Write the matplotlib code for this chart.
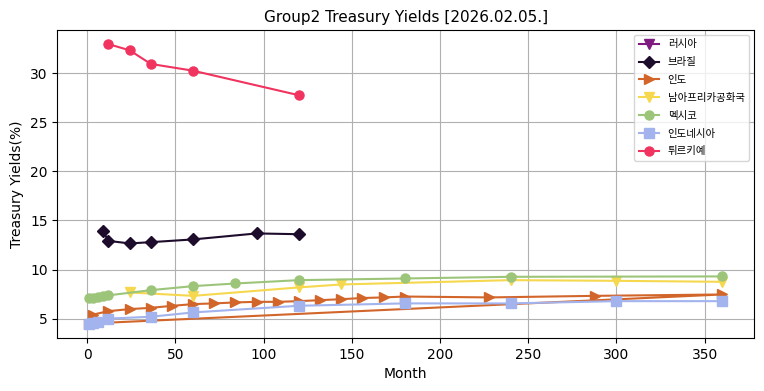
import matplotlib
matplotlib.use("Agg")
import matplotlib.pyplot as plt

plt.rcParams['font.family'] = ['DejaVu Sans', 'Noto Sans CJK KR']

# month / yield (%) per country
russia_m = []
russia_y = []

brazil_m = [9, 12, 24, 36, 60, 96, 120]
brazil_y = [13.88, 12.92, 12.66, 12.79, 13.07, 13.68, 13.6]

india_m = [3, 12, 24, 36, 48, 60, 72, 84, 96, 108, 120, 132, 144, 156,
           168, 180, 228, 288, 360, 1]
india_y = [5.4, 5.76, 5.97, 6.1, 6.3, 6.48, 6.55, 6.65, 6.71, 6.71, 6.78,
           6.88, 6.98, 7.1, 7.16, 7.25, 7.16, 7.32, 7.46, 4.5]

sa_m = [24, 60, 120, 144, 240, 300, 360]
sa_y = [7.67, 7.32, 8.18, 8.48, 8.92, 8.85, 8.75]

mexico_m = [1, 3, 6, 9, 12, 36, 60, 84, 120, 180, 240, 360]
mexico_y = [7.06, 7.12, 7.2, 7.28, 7.37, 7.9, 8.31, 8.58, 8.92, 9.09, 9.26, 9.3]

indonesia_m = [1, 3, 6, 12, 36, 60, 120, 180, 240, 300, 360]
indonesia_y = [4.43, 4.52, 4.65, 5.0, 5.19, 5.63, 6.31, 6.55, 6.55, 6.78, 6.78]

turkey_m = [12, 24, 36, 60, 120]
turkey_y = [32.97, 32.34, 30.95, 30.26, 27.76]

series = [
    ('러시아', russia_m, russia_y, 'v', '#7f1a80'),
    ('브라질', brazil_m, brazil_y, 'D', '#1e0c2c'),
    ('인도', india_m, india_y, '>', '#d2652a'),
    ('남아프리카공화국', sa_m, sa_y, 'v', '#f6d84e'),
    ('멕시코', mexico_m, mexico_y, 'o', '#9cc57a'),
    ('인도네시아', indonesia_m, indonesia_y, 's', '#a2b3ee'),
    ('튀르키예', turkey_m, turkey_y, 'o', '#f0335f'),
]

fig, ax = plt.subplots(figsize=(7.64, 3.91), dpi=100)
for name, m, y, mk, col in series:
    ax.plot(m, y, marker=mk, color=col, label=name, markersize=6.5, linewidth=1.5)

ax.set_xlim(-17, 378)
ax.set_title('Group2 Treasury Yields [2026.02.05.]', fontsize=11)
ax.set_xlabel('Month', fontsize=10)
ax.set_ylabel('Treasury Yields(%)', fontsize=10)
ax.grid(True, color='#b0b0b0')
ax.legend(loc='upper right', fontsize=7.5, labelspacing=0.75)
fig.subplots_adjust(left=0.075, right=0.987, top=0.923, bottom=0.135)
fig.savefig('out.png', dpi=100)
